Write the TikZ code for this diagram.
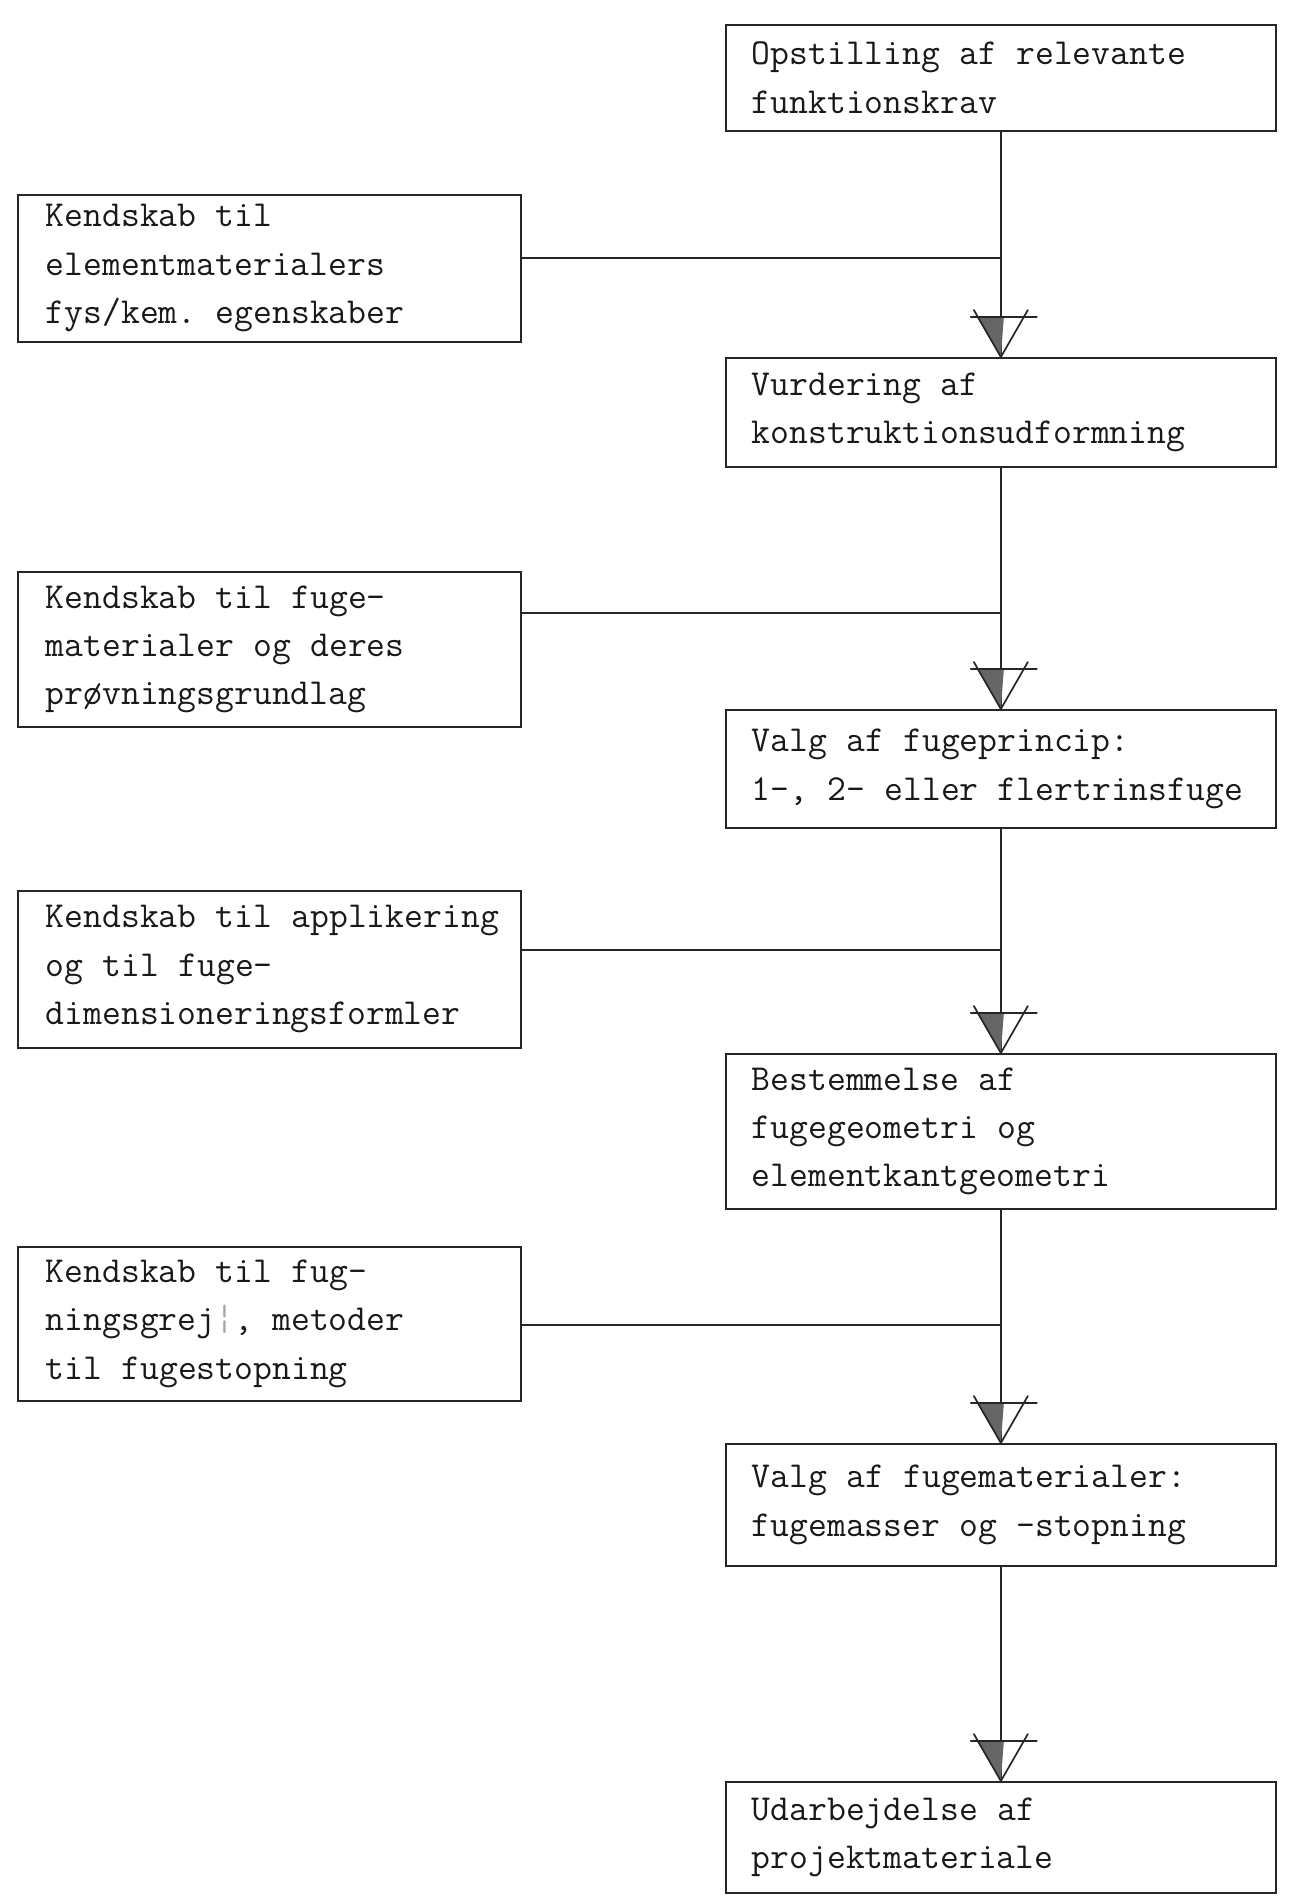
\documentclass[tikz,border=0pt]{standalone}
\usepackage{fontspec}
\usetikzlibrary{positioning,calc}
\newcommand{\typewr}{\ttfamily\fontsize{36.6}{48.4}\selectfont}

\begin{document}
\begin{tikzpicture}[x=1pt, y=-1pt, line cap=round,
  every node/.style={font=\typewr, text=black!90, execute at begin node={\spaceskip=19.2pt\xspaceskip=19.2pt}},
  rbox/.style={draw=black!85, line width=1.7pt, anchor=north west, align=left, inner xsep=26pt, text width=498pt},
  lbox/.style={draw=black!85, line width=1.7pt, anchor=north west, align=left, inner xsep=28pt, text width=447pt},
  link/.style={draw=black!85, line width=1.7pt},
  vtip/.pic={
    \fill[black!60] (0,0) -- (-24,-40) -- (3,-40) -- cycle;
    \draw[link] (-27,-47) -- (0,0) -- (27,-47);
    \draw[link] (-30,-40) -- (36,-40);
  }]
\useasboundingbox (0,0) rectangle (1289,1898);
% right column
\node (opst) [rbox, minimum height=106pt] at (725,24) {Opstilling af relevante\\funktionskrav};
\node (vurd) [rbox, minimum height=109pt] at (725,357) {Vurdering af\\konstruktionsudformning};
\node (princ) [rbox, minimum height=118pt] at (725,709) {Valg af fugeprincip:\\\mbox{1-, 2- eller flertrinsfuge}};
\node (geom) [rbox, minimum height=155pt] at (725,1053) {Bestemmelse af\\fugegeometri og\\elementkantgeometri};
\node (mat) [rbox, minimum height=122pt] at (725,1443) {Valg af fugematerialer:\\fugemasser og -stopning};
\node (proj) [rbox, minimum height=111pt] at (725,1781) {Udarbejdelse af\\projektmateriale};
% left column
\node (elem) [lbox, minimum height=147pt] at (17,194) {Kendskab til\\elementmaterialers\\fys/kem. egenskaber};
\node (fugemat) [lbox, minimum height=155pt] at (17,571) {Kendskab til fuge-\\materialer og deres\\prøvningsgrundlag};
\node (appl) [lbox, minimum height=157pt] at (17,890) {\mbox{Kendskab til applikering}\\og til fuge-\\dimensioneringsformler};
\node (grej) [lbox, minimum height=154pt] at (17,1246) {Kendskab til fug-\\ningsgrej{\color{black!35}¦}, metoder\\til fugestopning};
% joins
\coordinate (j1) at (opst.south |- 0,258);
\coordinate (j2) at (vurd.south |- 0,613);
\coordinate (j3) at (princ.south |- 0,950);
\coordinate (j4) at (geom.south |- 0,1325);
\draw[link] (opst.south) -- (vurd.north);
\draw[link] (elem.east |- j1) -- (j1);
\pic at (vurd.north) {vtip};
\draw[link] (vurd.south) -- (princ.north);
\draw[link] (fugemat.east |- j2) -- (j2);
\pic at (princ.north) {vtip};
\draw[link] (princ.south) -- (geom.north);
\draw[link] (appl.east |- j3) -- (j3);
\pic at (geom.north) {vtip};
\draw[link] (geom.south) -- (mat.north);
\draw[link] (grej.east |- j4) -- (j4);
\pic at (mat.north) {vtip};
\draw[link] (mat.south) -- (proj.north);
\pic at (proj.north) {vtip};
\end{tikzpicture}
\end{document}
